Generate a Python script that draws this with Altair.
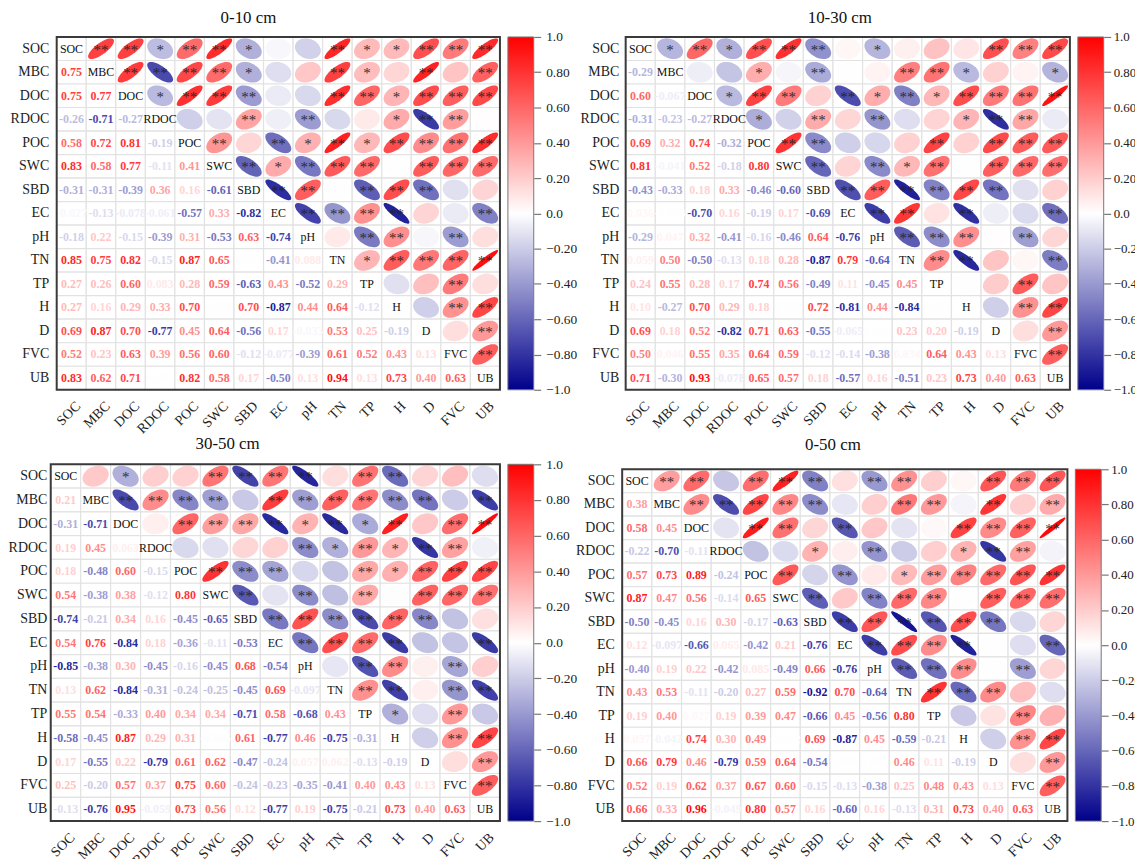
import math
import altair as alt

NAMES = ["SOC", "MBC", "DOC", "RDOC", "POC", "SWC", "SBD", "EC", "pH", "TN", "TP", "H", "D", "FVC", "UB"]
TITLE_FONT = "Liberation Serif"

R_A = [[.75], [.75, .77], [-.26, -.71, -.27], [.58, .72, .81, -.19], [.83, .58, .77, -.11, .41],
       [-.31, -.31, -.39, .36, .16, -.61], [-.027, -.13, -.078, -.061, -.57, .33, -.82],
       [-.18, .22, -.15, -.39, .31, -.53, .63, -.74], [.85, .75, .82, -.15, .87, .65, .002, -.41, .088],
       [.27, .26, .60, .083, .28, .59, -.63, .43, -.52, .29],
       [.27, .16, .29, .33, .70, .005, .70, -.87, .44, .64, -.12],
       [.69, .87, .70, -.77, .45, .64, -.56, .17, -.033, .53, .25, -.19],
       [.52, .23, .63, .39, .56, .60, -.12, -.077, -.39, .61, .52, .43, .13],
       [.83, .62, .71, .007, .82, .58, .17, -.50, .13, .94, .13, .73, .40, .63]]
S_A = [[2, 2, 1, 2, 2, 1, 0, 0, 2, 1, 1, 2, 2, 2], [2, 2, 2, 2, 1, 0, 0, 2, 1, 0, 2, 0, 2],
       [1, 2, 2, 2, 0, 0, 2, 2, 1, 2, 2, 2], [0, 0, 2, 0, 2, 0, 0, 1, 2, 2, 0], [2, 0, 2, 1, 2, 1, 2, 2, 2, 2],
       [2, 1, 2, 2, 2, 0, 2, 2, 2], [2, 2, 0, 2, 2, 2, 0, 0], [2, 2, 2, 2, 0, 0, 2], [0, 2, 2, 0, 2, 0],
       [1, 2, 2, 2, 2], [0, 0, 2, 0], [0, 2, 2], [0, 2], [2]]

R_B = [[-.29], [.60, -.067], [-.31, -.23, -.27], [.69, .32, .74, -.32], [.81, -.041, .52, -.18, .80],
       [-.43, -.33, .18, .33, -.46, -.60], [.036, -.003, -.70, .16, -.19, .17, -.69],
       [-.29, .047, .32, -.41, -.16, -.46, .64, -.76], [.059, .50, -.50, -.13, .18, .28, -.87, .79, -.64],
       [.24, .55, .28, .17, .74, .56, -.49, .11, -.45, .45],
       [.10, -.27, .70, .29, .18, .002, .72, -.81, .44, -.84, .004],
       [.69, .18, .52, -.82, .71, .63, -.55, -.065, .009, .23, .20, -.19],
       [.50, .046, .55, .35, .64, .59, -.12, -.14, -.38, .034, .64, .43, .13],
       [.71, -.30, .93, -.078, .65, .57, .18, -.57, .16, -.51, .23, .73, .40, .63]]
S_B = [[1, 2, 1, 2, 2, 2, 0, 1, 0, 0, 0, 2, 2, 2], [0, 0, 1, 0, 2, 0, 0, 2, 2, 1, 0, 0, 1],
       [1, 2, 2, 0, 2, 1, 2, 1, 2, 2, 2, 2], [1, 0, 2, 0, 2, 0, 0, 1, 2, 2, 0], [2, 2, 0, 0, 0, 2, 0, 2, 2, 2],
       [2, 0, 2, 1, 2, 0, 2, 2, 2], [2, 2, 2, 2, 2, 2, 0, 0], [2, 2, 0, 2, 0, 0, 2], [2, 2, 2, 0, 2, 0],
       [2, 2, 0, 0, 2], [0, 0, 2, 0], [0, 2, 2], [0, 2], [2]]

R_C = [[.21], [-.31, -.71], [.19, .45, .063], [.18, -.48, .60, -.15], [.54, -.38, .38, -.12, .80],
       [-.74, -.21, .34, .16, -.45, -.65], [.54, .76, -.84, .18, -.36, -.11, -.53],
       [-.85, -.38, .30, -.45, -.16, -.45, .68, -.54], [.13, .62, -.84, -.31, -.24, -.25, -.45, .69, -.097],
       [.55, .54, -.33, .40, .34, .34, -.71, .58, -.68, .43],
       [-.58, -.45, .87, .29, .31, -.006, .61, -.77, .46, -.75, -.31],
       [.17, -.55, .22, -.79, .61, .62, -.47, -.24, .057, .062, -.13, -.19],
       [.25, -.20, .57, .37, .75, .60, -.24, -.23, -.35, -.41, .40, .43, .13],
       [-.13, -.76, .95, -.059, .73, .56, .12, -.77, .19, -.75, -.21, .73, .40, .63]]
S_C = [[0, 1, 0, 0, 2, 2, 2, 2, 0, 2, 2, 0, 0, 0], [2, 2, 2, 2, 0, 2, 2, 2, 2, 2, 2, 0, 2],
       [0, 2, 2, 2, 2, 1, 2, 1, 2, 0, 2, 2], [0, 0, 0, 0, 2, 1, 2, 1, 2, 2, 0], [2, 2, 2, 0, 0, 2, 1, 2, 2, 2],
       [2, 0, 2, 0, 2, 0, 2, 2, 2], [2, 2, 2, 2, 2, 2, 0, 0], [2, 2, 2, 2, 0, 0, 2], [0, 2, 2, 0, 2, 0],
       [2, 2, 0, 2, 2], [1, 0, 2, 0], [0, 2, 2], [0, 2], [2]]

R_D = [[.38], [.58, .45], [-.22, -.70, -.11], [.57, .73, .89, -.24], [.87, .47, .56, -.14, .65],
       [-.50, -.45, .16, .30, -.17, -.63], [.12, -.097, -.66, .065, -.42, .21, -.76],
       [-.40, .19, .22, -.42, .085, -.49, .66, -.76], [.43, .53, -.11, -.20, .27, .59, -.92, .70, -.64],
       [.19, .40, .027, .19, .39, .47, -.66, .45, -.56, .80],
       [.037, -.042, .74, .30, .49, -.002, .69, -.87, .45, -.59, -.21],
       [.66, .79, .46, -.79, .59, .64, -.54, .003, .005, .46, .11, -.19],
       [.52, .19, .62, .37, .67, .60, -.15, -.13, -.38, .25, .48, .43, .13],
       [.66, .33, .96, -.049, .80, .57, .16, -.60, .16, -.13, .31, .73, .40, .63]]
S_D = [[2, 2, 0, 2, 2, 2, 0, 2, 2, 0, 0, 2, 2, 2], [2, 2, 2, 2, 2, 0, 0, 2, 2, 0, 2, 0, 2],
       [0, 2, 2, 0, 2, 0, 0, 0, 2, 2, 2, 2], [0, 0, 1, 0, 2, 0, 0, 1, 2, 2, 0], [2, 0, 2, 0, 1, 2, 2, 2, 2, 2],
       [2, 0, 2, 2, 2, 0, 2, 2, 2], [2, 2, 2, 2, 2, 2, 0, 0], [2, 2, 2, 2, 0, 0, 2], [2, 2, 2, 0, 2, 0],
       [2, 2, 2, 0, 0], [0, 0, 2, 0], [0, 2, 2], [0, 2], [2]]

BAR_TICKS = [-1.0, -0.8, -0.6, -0.4, -0.2, 0.0, 0.2, 0.4, 0.6, 0.8, 1.0]
COLOR_DOMAIN = [-1, 0, 1]
COLOR_RANGE = ["#00008b", "#ffffff", "#ff0000"]
ASPECT = 0.8


def ellipse_path(r):
    """Correlation ellipse for r, in unit coordinates for a Vega custom symbol."""
    d = math.acos(max(-0.999, min(0.999, r)))
    pts = []
    for k in range(48):
        t = 2 * math.pi * k / 48
        pts.append((math.cos(t + d / 2), -ASPECT * math.cos(t - d / 2)))
    return "M" + " L".join(f"{x:.4f},{y:.4f}" for x, y in pts) + " Z"


def fmt(v):
    return f"{v:.2f}" if abs(v) >= 0.0995 else f"{v:.3f}"


def panel(title, lower, stars, w, h, x0, y0, label_pad, title_dx, title_offset, bar_gap, bar_pad=5, bar_font=13.5):
    low, up, diag = [], [], []
    for i, row in enumerate(lower, start=1):
        for j, v in enumerate(row):
            low.append({"row": NAMES[i], "col": NAMES[j], "r": v, "txt": fmt(v)})
    for i, row in enumerate(stars):
        for k, n in enumerate(row):
            j = i + 1 + k
            v = lower[j - 1][i]
            up.append({"row": NAMES[i], "col": NAMES[j], "r": v, "stars": "*" * n, "path": ellipse_path(v)})
    for n in NAMES:
        diag.append({"row": n, "col": n})
    cells = [{"row": a, "col": b} for a in NAMES for b in NAMES]

    x = alt.X("col:N", sort=NAMES, title=None,
              scale=alt.Scale(type="band", domain=NAMES, paddingInner=0, paddingOuter=0, range=[x0, w]),
              axis=alt.Axis(labelAngle=315, labelAlign="right", labelBaseline="middle", labelFontSize=14,
                            labelFont=TITLE_FONT, labelColor="#222222", ticks=False, domain=False, grid=False,
                            labelPadding=14, labelOffset=7))
    y = alt.Y("row:N", sort=NAMES, title=None,
              scale=alt.Scale(type="band", domain=NAMES, paddingInner=0, paddingOuter=0, range=[y0, h]),
              axis=alt.Axis(labelFontSize=14, labelFont=TITLE_FONT, labelColor="#222222", ticks=False,
                            domain=False, grid=False, labelPadding=label_pad))
    color = alt.Color("r:Q", legend=None, scale=alt.Scale(domain=COLOR_DOMAIN, range=COLOR_RANGE, interpolate="rgb"))

    grid = alt.Chart(alt.Data(values=cells)).mark_rect(fill="white", stroke="#e2e2e2", strokeWidth=1.2).encode(x=x, y=y)
    ell = alt.Chart(alt.Data(values=up)).mark_point(filled=True, opacity=1, strokeWidth=0,
                                                    size=((w - x0) / 15 * 0.875) ** 2).encode(
        x=x, y=y, color=color, shape=alt.Shape("path:N", scale=None))
    st = alt.Chart(alt.Data(values=up)).mark_text(font=TITLE_FONT, fontSize=15, color="#222222", dy=1, opacity=0.9).encode(
        x=x, y=y, text="stars:N")
    val = alt.Chart(alt.Data(values=low)).mark_text(font=TITLE_FONT, fontSize=12, fontWeight="bold").encode(
        x=x, y=y, color=color, text="txt:N")
    dg = alt.Chart(alt.Data(values=diag)).mark_text(font=TITLE_FONT, fontSize=12, color="#111111").encode(
        x=x, y=y, text="col:N")
    frame = alt.Chart(alt.Data(values=[{}])).mark_rect(fillOpacity=0, stroke="#3a3a3a", strokeWidth=2).encode(
        x=alt.value(x0), x2=alt.value(w), y=alt.value(y0), y2=alt.value(h))

    main = alt.layer(grid, ell, st, val, dg, frame).properties(
        width=w, height=h,
        title=alt.TitleParams(title, font=TITLE_FONT, fontSize=17, fontWeight="normal", color="#111111",
                              anchor="middle", dx=title_dx, offset=title_offset))

    grad = alt.LinearGradient(gradient="linear", x1=0, x2=0, y1=1, y2=0,
                              stops=[alt.GradientStop(color=COLOR_RANGE[0], offset=0),
                                     alt.GradientStop(color=COLOR_RANGE[1], offset=0.5),
                                     alt.GradientStop(color=COLOR_RANGE[2], offset=1)])
    bar = alt.Chart(alt.Data(values=[{"lo": -1, "hi": 1}])).mark_rect(color=grad, stroke="#777777", strokeWidth=1).encode(
        x=alt.value(0), x2=alt.value(26),
        y=alt.Y("lo:Q", title=None, scale=alt.Scale(domain=[-1, 1], nice=False, range=[h, y0]),
                axis=alt.Axis(orient="right", values=BAR_TICKS, grid=False, domain=False, tickSize=7, tickColor="#777777",
                              tickWidth=1.2, labelPadding=bar_pad, labelFont=TITLE_FONT, labelFontSize=bar_font, labelColor="#222222",
                              labelExpr="abs(datum.value)==1 || datum.value==0 ? format(datum.value,'.1f') : format(datum.value,'.2f')")),
        y2="hi:Q").properties(width=26, height=h)
    return alt.hconcat(main, bar, spacing=bar_gap)


pa = panel("0-10 cm", R_A, S_A, 452, 355, 6, 0, 2, -27, 9, 6)
pb = panel("10-30 cm", R_B, S_B, 449, 355, 2, 0, 5, -7, 9, 6, 2.5, 13)
pc = panel("30-50 cm", R_C, S_C, 452, 359, 0, 0, 4, -48, 10, 6)
pd = panel("0-50 cm", R_D, S_D, 448, 359, 0, 5, 8, -12, 10, 6, 2.5, 13)

row1 = alt.concat(pa, pb, columns=2, align="none", spacing=2.5)
row2 = alt.concat(pc, pd, columns=2, align="none", spacing=-2)
chart = (alt.concat(row1, row2, columns=1, align="none", spacing=-1)
         .properties(padding={"left": 0, "top": -1.5, "right": -9, "bottom": -12})
         .configure_view(stroke=None))
chart.save("out.html", embed_options={"renderer": "svg", "actions": False})
